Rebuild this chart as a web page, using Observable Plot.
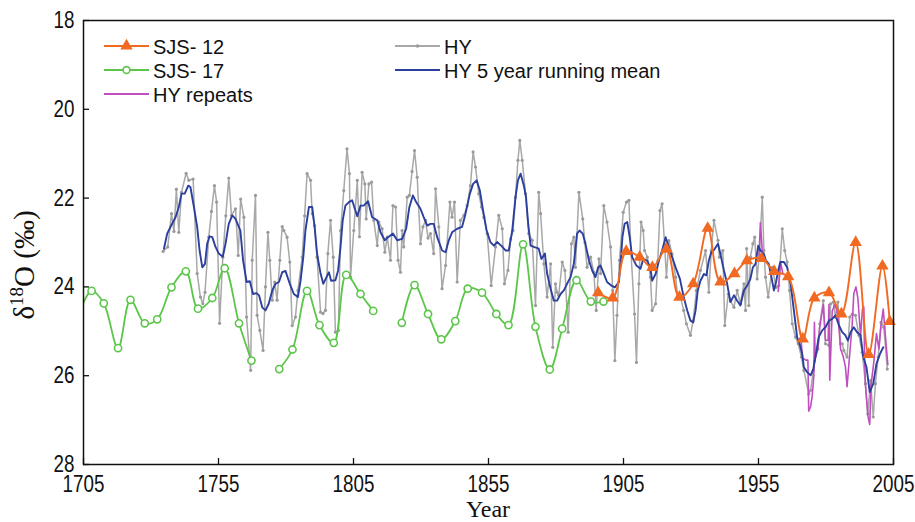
<!DOCTYPE html>
<html><head><meta charset="utf-8">
<script src="https://cdn.jsdelivr.net/npm/d3@7"></script>
<script src="https://cdn.jsdelivr.net/npm/@observablehq/plot@0.6"></script>
<style>
body{margin:0;background:#fff;}
#chart{position:relative;width:915px;height:522px;}
</style></head><body><div id="chart"></div>
<script>
const xTicks = [1705, 1755, 1805, 1855, 1905, 1955, 2005];
const yTicks = [18, 20, 22, 24, 26, 28];

const sjs12 = [[1895.6,24.13],[1901,24.25],[1906,23.2],[1911,23.33],[1915.7,23.56],[1920.9,23.15],[1925.7,24.23],[1930.8,23.93],[1936.2,22.68],[1940.9,23.89],[1946.1,23.7],[1950.7,23.41],[1956.1,23.36],[1960.8,23.65],[1966,23.77],[1971.4,25.17],[1975.7,24.25],[1981.1,24.13],[1985.7,24.61],[1991,23.0],[1995.8,25.52],[2000.9,23.53],[2003.6,24.78]];

const sjs17 = [[1704,24.5],[1708,24.09],[1712.5,24.37],[1717.8,25.38],[1722.4,24.29],[1727.7,24.82],[1732.3,24.73],[1737.6,24.01],[1742.9,23.65],[1747.4,24.49],[1752.7,24.25],[1757.3,23.58],[1762.6,24.82],[1767.2,25.66],[1772,null],[1777.5,25.85],[1782.4,25.41],[1787.8,24.09],[1792.4,24.86],[1797.7,25.26],[1802.3,23.73],[1807.6,24.16],[1812.3,24.54],[1817,null],[1822.9,24.81],[1827.6,23.96],[1832.6,24.61],[1837.5,25.18],[1842.7,24.77],[1847.3,24.04],[1852.6,24.13],[1857.9,24.61],[1862.4,24.86],[1867.8,23.04],[1872.4,24.9],[1877.7,25.86],[1882.3,24.94],[1887.6,23.85],[1892.9,24.33],[1897.6,24.33]];

const hy = [[1734.5,23.2],[1736.2,23.1],[1737.6,22.35],[1738.5,22.75],[1739.4,21.8],[1740.3,22.77],[1741.3,21.87],[1743,21.44],[1744,21.6],[1745.6,21.57],[1747.1,23.7],[1748.3,24.23],[1749.2,24.38],[1750,24.12],[1751.4,22.88],[1752.4,22.3],[1753.5,21.72],[1754.3,22.09],[1755.4,24.82],[1756.6,23.33],[1757.7,22.4],[1758.8,21.55],[1759.8,22.39],[1761.3,22.24],[1762.3,23.29],[1763.2,22.02],[1764.4,22.43],[1765.4,24.68],[1766.9,25.88],[1767.5,23.4],[1768.7,21.94],[1769.3,24.64],[1770.3,24.98],[1771.5,25.43],[1772.4,24.0],[1773.3,22.77],[1774,23.4],[1774.9,24.3],[1775.8,23.89],[1776.7,24.3],[1777.7,23.4],[1778.6,22.64],[1779.2,22.73],[1780.4,22.88],[1781.4,23.44],[1782.3,24.87],[1783.5,24.68],[1784.4,24.08],[1786,23.33],[1786.9,22.4],[1787.8,21.45],[1789.1,21.6],[1789.7,22.35],[1790.6,22.62],[1791.5,23.33],[1792.8,24.57],[1793.7,24.6],[1794.6,24.53],[1795.5,23.25],[1796.5,22.5],[1797.5,23.33],[1798.3,25.02],[1799.4,24.98],[1800.2,22.73],[1801.4,21.83],[1802.6,20.89],[1803.5,21.45],[1803.9,23.78],[1805.1,22.73],[1806.4,21.6],[1807.2,22.87],[1808.2,21.42],[1809.2,21.68],[1809.7,22.47],[1810.7,21.68],[1811.7,21.64],[1812.5,22.5],[1813.8,23.07],[1814.4,22.54],[1815.6,22.69],[1816.6,23.22],[1817.5,22.88],[1818.7,23.4],[1819.6,22.17],[1820.6,22.2],[1821.5,23.4],[1822.4,23.67],[1823,22.73],[1823.6,23.1],[1824.9,21.98],[1825.7,21.94],[1826.7,21.4],[1827.6,20.93],[1828.6,21.53],[1829.8,23.03],[1830.7,22.65],[1831.7,22.5],[1832.6,22.9],[1833.5,22.8],[1834.7,23.25],[1835.4,21.79],[1836.6,22.65],[1837.8,24.04],[1839.1,23.52],[1840.7,22.09],[1841.5,22.43],[1842.4,22.09],[1843.4,23.89],[1844.6,22.5],[1845.9,22.39],[1847.1,22.17],[1848.3,21.72],[1849.3,20.96],[1850.2,21.3],[1851.4,21.9],[1852.4,22.2],[1853.3,22.43],[1854.5,22.8],[1856,23.97],[1857.6,23.1],[1858.8,22.39],[1860.1,22.69],[1860.9,23.93],[1862.2,23.63],[1863.2,22.92],[1864.1,22.73],[1865,21.98],[1865.9,21.15],[1866.6,20.7],[1867.5,21.15],[1868.7,21.9],[1869.9,22.8],[1871.2,22.95],[1872.4,24.42],[1873.6,21.87],[1874.3,22.35],[1875.5,23.48],[1876.7,24.23],[1878,23.48],[1878.8,25.36],[1879.8,23.93],[1880.4,24.12],[1881,24.19],[1882.3,23.44],[1883.3,23.63],[1884.5,25.02],[1885.7,23.03],[1886.6,22.88],[1887.2,23.56],[1888.5,21.87],[1889.9,22.47],[1890.7,23.0],[1891.5,23.56],[1892.8,23.33],[1894,23.67],[1894.9,24.53],[1895.9,23.37],[1896.5,23.7],[1897.7,22.17],[1898.9,22.54],[1900.2,23.1],[1901,24.08],[1901.8,25.66],[1902.6,24.64],[1903.5,23.4],[1904.9,22.32],[1906.1,22.09],[1907,22.05],[1907.8,23.26],[1909.1,24.61],[1909.8,25.7],[1910.7,23.93],[1911.5,22.54],[1912.3,22.73],[1912.8,23.18],[1913.8,23.33],[1915,23.78],[1915.6,24.53],[1916.9,24.38],[1917.7,23.41],[1918.5,22.28],[1919.3,22.13],[1920.2,23.03],[1920.9,23.78],[1921.8,22.96],[1923,23.26],[1924.3,23.78],[1925.1,24.23],[1926.1,24.23],[1927.3,24.53],[1928.3,24.83],[1929.8,25.09],[1930.8,24.76],[1932,24.08],[1933.5,23.63],[1935.4,23.18],[1936.6,24.12],[1937.5,23.18],[1938.5,22.5],[1940,22.95],[1940.5,23.33],[1941.8,23.18],[1942.5,24.87],[1943.8,24.16],[1944.6,24.31],[1945.9,24.46],[1947.1,24.08],[1948.3,24.38],[1949.6,23.93],[1950.2,24.53],[1950.6,23.14],[1951.4,24.42],[1952,23.33],[1952.9,23.03],[1953.6,22.88],[1954.5,23.82],[1955.4,23.18],[1956.4,21.98],[1957,23.18],[1957.6,23.78],[1958.6,24.23],[1960.1,23.56],[1961.5,24.01],[1962.5,23.97],[1963.8,22.69],[1964.7,23.18],[1965.6,23.44],[1966.5,24.08],[1967.5,24.83],[1968.7,25.13],[1969.7,25.28],[1970.9,25.58],[1971.8,25.88],[1973.6,26.41],[1974.3,26.33],[1975.3,25.88],[1975.7,25.67],[1977,25.4],[1977.7,24.83],[1979,24.31],[1979.8,25.28],[1981.1,25.32],[1981.7,24.38],[1982.7,24.34],[1983.5,24.68],[1984.4,24.34],[1985.4,25.28],[1986,25.28],[1986.6,25.43],[1987.8,25.58],[1988.8,24.68],[1989.7,24.61],[1990.9,24.64],[1992.2,25.09],[1993.4,25.47],[1994.6,26.18],[1995.5,26.86],[1996.5,26.11],[1997.5,26.93],[1998.3,26.18],[1999.3,25.58],[2000.4,24.8],[2001.4,24.91],[2002.7,25.85]];

const hyMean = [[1734.8,23.14],[1736,22.8],[1737.2,22.65],[1739.1,22.43],[1740.3,22.2],[1741.3,21.9],[1742.5,21.9],[1743.8,21.72],[1744.6,21.75],[1745.9,22.2],[1747.1,22.65],[1748,23.18],[1749,23.56],[1750,23.48],[1750.8,23.03],[1751.7,22.86],[1752.7,22.88],[1753.9,23.1],[1755.1,23.25],[1756.6,23.32],[1757.6,23.03],[1758.8,22.58],[1760.1,22.39],[1761.3,22.47],[1763.1,22.73],[1764.1,23.4],[1765.4,23.89],[1766.6,23.87],[1767.8,24.16],[1769.1,24.14],[1770,24.19],[1771.2,24.46],[1772.4,24.53],[1773.6,24.38],[1774.9,24.08],[1776.1,23.93],[1777.4,23.89],[1778.6,23.67],[1779.8,23.64],[1781.4,23.93],[1782.9,24.16],[1784.4,24.23],[1785.4,23.86],[1786.4,23.33],[1787.2,22.73],[1788.5,22.2],[1789.7,22.2],[1790.6,22.65],[1791.5,23.25],[1792.8,23.7],[1793.8,23.93],[1795,23.78],[1795.9,23.67],[1796.7,23.86],[1798.3,23.85],[1799.3,23.63],[1800.2,23.1],[1801,22.5],[1802,22.17],[1803.3,22.09],[1804.5,22.05],[1805.5,22.24],[1806.4,22.41],[1807.6,22.17],[1808.8,22.17],[1810.4,22.07],[1811.9,22.43],[1813.8,22.5],[1815,22.77],[1816.6,22.95],[1817.8,22.88],[1819.6,22.8],[1821.2,22.95],[1823,22.92],[1824.5,22.69],[1825.7,22.2],[1827,21.94],[1828.2,22.09],[1829.8,22.24],[1831,22.43],[1832.3,22.62],[1833.5,22.58],[1834.7,22.58],[1836,22.88],[1837.8,23.18],[1839.1,23.22],[1840.3,22.95],[1841.5,22.77],[1843.4,22.69],[1845.2,22.65],[1846.5,22.35],[1848.1,21.9],[1849.3,21.68],[1850.6,21.6],[1851.8,21.83],[1853,22.28],[1854.3,22.73],[1855.7,22.99],[1857,23.07],[1858.2,22.99],[1859.7,23.07],[1861.3,23.18],[1862.5,23.18],[1863.8,22.73],[1865,21.98],[1865.9,21.6],[1866.9,21.45],[1868.1,21.72],[1868.9,21.98],[1869.7,22.58],[1870.6,23.07],[1871.8,23.1],[1873.6,23.14],[1874.6,23.37],[1875.9,23.25],[1876.7,23.7],[1878,24.04],[1879.2,24.31],[1880.4,24.31],[1881.7,24.16],[1882.9,24.08],[1884.1,23.93],[1885.4,23.78],[1886.6,23.48],[1887.8,22.8],[1888.7,22.73],[1889.9,22.8],[1890.9,23.03],[1892.2,23.4],[1893.4,23.63],[1894.6,23.78],[1895.6,23.56],[1896.5,23.52],[1897.7,23.7],[1898.9,23.89],[1900.5,23.97],[1901.8,24.01],[1903.3,23.89],[1904.1,23.33],[1904.6,22.88],[1905.4,22.58],[1906.4,22.54],[1907.3,22.88],[1908.2,23.33],[1909.8,23.52],[1911.3,23.59],[1912.3,23.37],[1913.8,23.41],[1915,23.59],[1915.6,23.86],[1916.9,23.71],[1918.1,23.41],[1919.3,23.18],[1920.6,22.88],[1921.8,23.11],[1923,23.33],[1924.3,23.56],[1925.9,23.82],[1927.3,24.23],[1928.6,24.53],[1929.8,24.76],[1930.8,24.8],[1931.7,24.53],[1932.5,24.08],[1933.5,23.86],[1934.8,23.71],[1935.7,23.74],[1936.6,23.41],[1937.5,23.22],[1938.5,23.17],[1940,23.03],[1940.9,23.26],[1942.2,23.63],[1943.4,23.93],[1944.6,24.34],[1945.9,24.19],[1947.1,24.31],[1948.3,24.42],[1949.6,24.08],[1950.8,23.97],[1952,23.82],[1952.9,23.56],[1953.9,23.48],[1954.9,23.07],[1955.7,23.18],[1957,23.26],[1957.8,23.41],[1958.8,23.48],[1959.8,23.78],[1960.7,24.08],[1961.5,23.89],[1962.3,23.63],[1963.1,23.44],[1964.4,23.44],[1965.6,23.56],[1966.9,23.93],[1968.1,24.53],[1969.3,25.13],[1970.2,25.28],[1971.2,25.51],[1971.8,25.81],[1973,25.92],[1974.3,25.99],[1975.3,25.85],[1976.1,25.58],[1977.3,25.13],[1978.6,24.98],[1979.8,24.91],[1981.1,24.76],[1982.3,24.72],[1983.5,24.64],[1984.8,24.87],[1986,25.02],[1987.2,25.09],[1988.1,25.21],[1989.1,25.02],[1990.3,24.91],[1991.5,25.02],[1992.8,25.09],[1993.8,25.58],[1995,25.81],[1996.2,26.37],[1997.5,26.18],[1998.7,25.73],[2000,25.51],[2001.2,25.36]];

const hyRepeats = [[1955.2,23.3],[1955.7,22.55],[1956.4,23.2],[1958,null],[1962.3,24.1],[1963.2,23.45],[1964,23.7],[1966,null],[1970.5,25.0],[1971.3,25.6],[1972.5,25.65],[1973.3,25.65],[1973.6,26.8],[1974.3,26.7],[1974.9,26.45],[1975.5,26.0],[1975.7,24.8],[1976,25.6],[1977,25.4],[1977.7,24.9],[1979,24.4],[1979.8,25.2],[1980.8,25.2],[1981.1,24.4],[1981.4,26.1],[1982.3,24.55],[1983.2,24.4],[1983.9,24.5],[1984.5,24.7],[1985.4,25.4],[1986.3,25.55],[1987.2,25.8],[1987.8,26.25],[1988.8,25.5],[1989.7,24.85],[1990.3,24.15],[1991.1,24.0],[1991.8,24.25],[1992.8,25.1],[1993.5,24.5],[1994,24.45],[1994.3,25.6],[1994.6,26.2],[1995.5,26.9],[1996.2,27.1],[1996.7,26.2],[1997.7,25.7],[1998.7,25.05],[1999.6,25.4],[2000.4,24.85],[2001.2,24.5],[2002,25.1],[2002.9,25.75]];

const C = {orange:"#f26a21", green:"#5cc64a", magenta:"#c04ec0", gray:"#a8a8a8", grayDot:"#9a9a9a", blue:"#2b3f9e"};
const sans = "'Liberation Sans', Arial, sans-serif";
const serif = "'Liberation Serif', 'Times New Roman', serif";

const X = d => d[0], Y = d => d[1];
const svgEl = Plot.plot({
  width: 915, height: 522,
  marginLeft: 83, marginRight: 22, marginTop: 20, marginBottom: 58,
  style: {fontFamily: sans, fontSize: "23.5px", color: "#111", background: "#fff", overflow: "visible"},
  x: {domain: [1705, 2005], label: null},
  y: {domain: [18, 28], reverse: true, label: null},
  marks: [
    Plot.line(hy, {x: X, y: Y, stroke: C.gray, strokeWidth: 1.5}),
    Plot.dot(hy, {x: X, y: Y, r: 1.6, fill: C.grayDot, stroke: null}),
    Plot.line(hyRepeats, {x: X, y: Y, stroke: C.magenta, strokeWidth: 1.6}),
    Plot.line(hyMean, {x: X, y: Y, stroke: C.blue, strokeWidth: 1.9}),
    Plot.line(sjs17, {x: X, y: Y, stroke: C.green, strokeWidth: 1.8, curve: "catmull-rom", clip: true}),
    Plot.dot(sjs17.filter(d => d[0] >= 1705 && d[1] != null), {x: X, y: Y, r: 3.6, stroke: C.green, strokeWidth: 1.6, fill: "#fff"}),
    Plot.line(sjs12, {x: X, y: Y, stroke: C.orange, strokeWidth: 1.9, curve: "catmull-rom"}),
    Plot.dot(sjs12, {x: X, y: Y, r: 4.6, symbol: "triangle", fill: C.orange, stroke: null}),
    Plot.frame({stroke: "#111", strokeWidth: 1.5}),
    Plot.axisX({ticks: xTicks, tickSize: 6, dy: -6, tickFormat: () => "", stroke: "#111", strokeWidth: 1.3}),
    Plot.axisX({ticks: xTicks, tickSize: 0, tickPadding: 11, tickFormat: d => String(d), fill: "#111"}),
    Plot.axisY({ticks: yTicks, tickSize: 6, dx: 6, tickFormat: () => "", stroke: "#111", strokeWidth: 1.3}),
    Plot.axisY({ticks: yTicks, tickSize: 0, tickPadding: 9, tickFormat: d => String(d), fill: "#111"})
  ]
});

// condensed tick labels: scale horizontally about each label's own anchor
svgEl.querySelectorAll('g[aria-label$="tick label"] text').forEach(t => {
  if (!t.textContent) return;
  const xa = t.getAttribute("x");
  const tr = t.getAttribute("transform") || "";
  if (xa != null && !isNaN(+xa) && +xa !== 0) {
    t.setAttribute("x", 0);
    t.setAttribute("transform", `${tr} translate(${+xa},0) scale(0.8,1)`);
  } else {
    t.setAttribute("transform", `${tr} scale(0.8,1)`);
  }
});

const svg = d3.select(svgEl);
// axis titles
const yl = svg.append("text").attr("transform", "translate(34,265) rotate(-90)")
  .attr("text-anchor", "middle").attr("font-family", serif).attr("font-size", 29).attr("fill", "#111");
yl.append("tspan").text("δ");
yl.append("tspan").attr("font-size", 19).attr("dy", -11).text("18");
yl.append("tspan").attr("dy", 11).text("O (‰)");
svg.append("text").attr("x", 488).attr("y", 517).attr("text-anchor", "middle")
  .attr("font-family", serif).attr("font-size", 24).attr("fill", "#111").text("Year");

// legend
const legend = [
  {label: "SJS- 12", color: C.orange, marker: "triangle", x: 104, y: 46},
  {label: "SJS- 17", color: C.green, marker: "circle", x: 104, y: 70},
  {label: "HY repeats", color: C.magenta, marker: null, x: 104, y: 94},
  {label: "HY", color: C.gray, marker: "dot", x: 395, y: 46},
  {label: "HY 5 year running mean", color: C.blue, marker: null, x: 395, y: 70}
];
const lg = svg.append("g").attr("font-family", sans).attr("font-size", 20).attr("fill", "#111").attr("text-anchor", "start");
legend.forEach(e => {
  const g = lg.append("g");
  g.append("line").attr("x1", e.x).attr("x2", e.x + 45).attr("y1", e.y).attr("y2", e.y)
    .attr("stroke", e.color).attr("stroke-width", 2);
  const cx = e.x + 22.5;
  if (e.marker === "triangle") g.append("path").attr("d", d3.symbol(d3.symbolTriangle, 66)()).attr("transform", `translate(${cx},${e.y})`).attr("fill", e.color);
  if (e.marker === "circle") g.append("circle").attr("cx", cx).attr("cy", e.y).attr("r", 3.4).attr("fill", "#fff").attr("stroke", e.color).attr("stroke-width", 1.6);
  if (e.marker === "dot") g.append("circle").attr("cx", cx).attr("cy", e.y).attr("r", 1.8).attr("fill", C.grayDot);
  g.append("text").attr("x", e.x + 49).attr("y", e.y + 8).attr("text-anchor", "start").text(e.label);
});

document.getElementById("chart").appendChild(svgEl);
</script>
</body></html>
